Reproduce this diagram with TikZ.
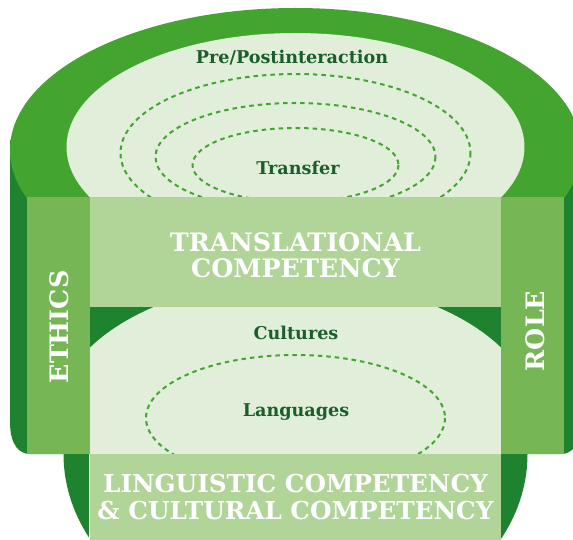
\documentclass[tikz,border=0pt]{standalone}
\usepackage{fontspec}
\setmainfont{DejaVu Serif}
\usepackage{tikz}
\definecolor{domegreen}{HTML}{43A52F}
\definecolor{darkgreen}{HTML}{1F822E}
\definecolor{midgreen}{HTML}{76B655}
\definecolor{boxgreen}{HTML}{B1D499}
\definecolor{palegreen}{HTML}{E1EED9}
\definecolor{textgreen}{HTML}{1B5E2B}
\tikzset{
    label/.style={text=textgreen, font=\bfseries\fontsize{17.6}{18}\selectfont, inner sep=0pt},
    title/.style={text=white, font=\bfseries\fontsize{25.4}{26}\selectfont, align=center, inner sep=0pt},
    band/.style={fill=midgreen},
    ring/.style={draw=domegreen, line width=2pt, dash pattern=on 4.5pt off 4pt}
}

\begin{document}
\begin{tikzpicture}[x=1pt, y=-1pt]
\useasboundingbox (0,0) rectangle (573,540);
\clip (0,0) rectangle (573,540);
% back body and bowl
\fill[darkgreen] (10,140) -- (10,422) .. controls (10,446) and (20,454) .. (30,454)
    -- (561,454) .. controls (571,454) and (581,446) .. (581,422) -- (581,140) -- cycle;
\fill[darkgreen] (295.5,454) ellipse [x radius=232, y radius=183];
% dome
\fill[domegreen] (295.5,150) ellipse [x radius=285.5, y radius=142];
\fill[palegreen] (295.5,147) ellipse [x radius=229, y radius=114];
\draw[ring] (295.5,153) ellipse [x radius=175, y radius=79];
\draw[ring] (295.5,157) ellipse [x radius=140, y radius=54];
\draw[ring] (295.5,165) ellipse [x radius=103, y radius=37];
% lower part
\begin{scope}
\clip (90,307) rectangle (501,454);
\fill[palegreen] (295.5,420) ellipse [x radius=240, y radius=140];
\end{scope}
\draw[ring] (295.5,418) ellipse [x radius=149.5, y radius=63];
% boxes and bands
\fill[boxgreen] (90,197) rectangle (501,307);
\fill[band] (27,197) rectangle (90,454);
\fill[band] (501,197) rectangle (564,454);
\fill[boxgreen] (90,454) rectangle (501,545);
\draw[white, line width=1pt] (89.5,454) -- (89.5,545);
% texts
\node[label] (pre) at (292,58) {Pre/Postinteraction};
\node[label] (transfer) at (298,168) {Transfer};
\node[label] (cultures) at (296,333) {Cultures};
\node[label] (languages) at (296,412) {Languages};
\node[title] (transcomp) at (295.5,255) {TRANSLATIONAL\\COMPETENCY};
\node[title, rotate=90] (ethics) at (59,327) {ETHICS};
\node[title, rotate=90] (role) at (535,331) {ROLE};
\node[title, font=\bfseries\fontsize{24.7}{27}\selectfont] (lingcomp) at (295.5,497) {LINGUISTIC COMPETENCY\\\& CULTURAL COMPETENCY};
\end{tikzpicture}
\end{document}
